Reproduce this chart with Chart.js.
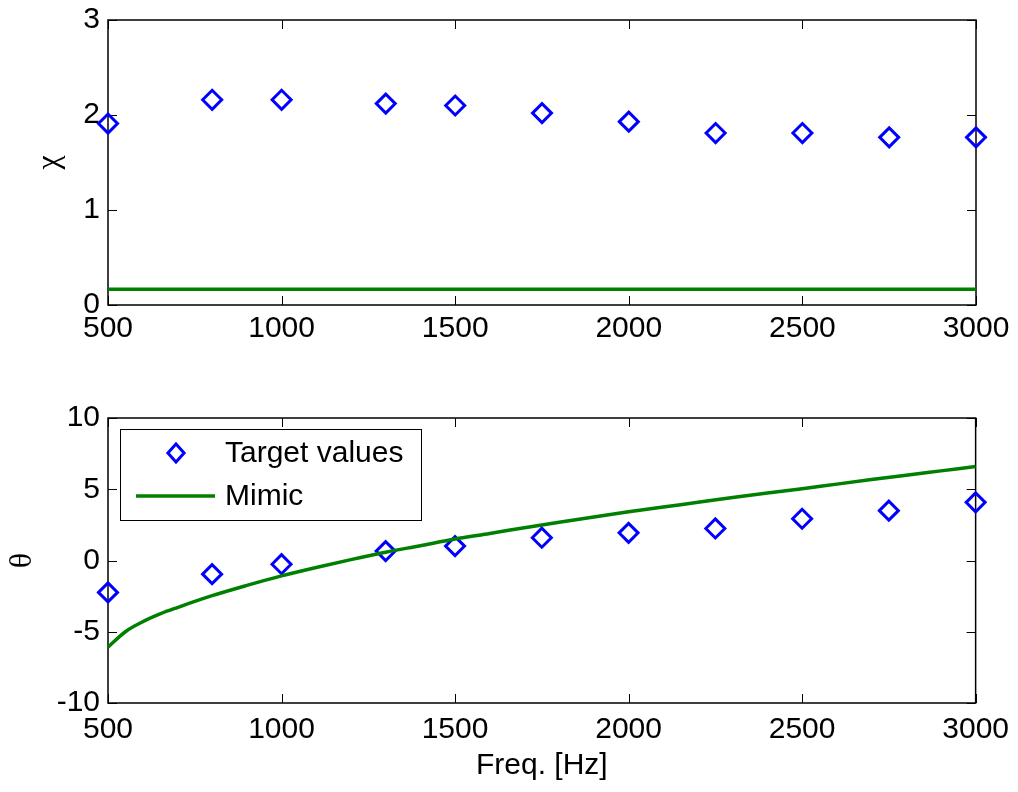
<!DOCTYPE html>
<html>
<head>
<meta charset="utf-8">
<script src="https://cdn.jsdelivr.net/npm/chart.js@4.4.1/dist/chart.umd.min.js"></script>
<style>
  html, body { margin: 0; padding: 0; background: #fff; }
  #wrap { position: relative; width: 1018px; height: 792px; }
  canvas { position: absolute; left: 0; }
  #top { top: 0; }
  #bot { top: 360px; }
</style>
</head>
<body>
<div id="wrap">
  <canvas id="top" width="1018" height="360"></canvas>
  <canvas id="bot" width="1018" height="432"></canvas>
</div>
<script>
// target points (diamonds)
const targetFreq = [500, 800, 1000, 1300, 1500, 1750, 2000, 2250, 2500, 2750, 3000];
const chiTarget = [1.91, 2.16, 2.16, 2.12, 2.10, 2.02, 1.93, 1.81, 1.81, 1.765, 1.765];
const thetaTarget = [-2.24, -0.96, -0.26, 0.66, 1.01, 1.6, 1.94, 2.25, 2.93, 3.5, 4.08];

// mimic curves (green)
const chiMimicFreq = [500, 3000];
const chiMimic = [0.165, 0.165];
const mimicFreq = [500, 550, 600, 650, 700, 800, 900, 1000, 1100, 1200, 1300, 1400, 1500, 1600,
  1700, 1800, 1900, 2000, 2100, 2200, 2300, 2400, 2500, 2600, 2700, 2800, 2900, 3000];
const thetaMimic = [-6.08, -5.0, -4.3, -3.75, -3.3, -2.47, -1.75, -1.08, -0.49, 0.06, 0.58, 1.04, 1.51, 1.9,
  2.3, 2.69, 3.06, 3.42, 3.76, 4.08, 4.42, 4.73, 5.03, 5.36, 5.68, 5.99, 6.29, 6.59];

const BLUE = '#0000ff';
const GREEN = '#008000';
const SANS = '"Liberation Sans", Arial, sans-serif';
const SERIF = '"Liberation Serif", "DejaVu Serif", serif';

Chart.defaults.font.family = SANS;
Chart.defaults.font.size = 30;
Chart.defaults.color = '#000';

const pts = (xs, ys) => xs.map((x, i) => ({ x, y: ys[i] }));

// matlab style box with inward ticks on all four sides
const boxPlugin = {
  id: 'box',
  beforeDatasetsDraw(chart) {
    const { ctx, chartArea: a, scales: { x, y } } = chart;
    ctx.save();
    ctx.strokeStyle = '#000';
    ctx.lineWidth = 1;
    ctx.beginPath();
    x.ticks.forEach((t) => {
      const px = Math.round(x.getPixelForValue(t.value)) + 0.5;
      ctx.moveTo(px, a.bottom); ctx.lineTo(px, a.bottom - 9);
      ctx.moveTo(px, a.top); ctx.lineTo(px, a.top + 9);
    });
    y.ticks.forEach((t) => {
      const py = Math.round(y.getPixelForValue(t.value)) + 0.5;
      ctx.moveTo(a.left, py); ctx.lineTo(a.left + 9, py);
      ctx.moveTo(a.right, py); ctx.lineTo(a.right - 9, py);
    });
    ctx.stroke();
    ctx.lineWidth = 1.5;
    ctx.strokeRect(a.left, a.top, a.right - a.left, a.bottom - a.top);
    ctx.restore();
  },
};

function diamond(ctx, cx, cy, r) {
  ctx.beginPath();
  ctx.moveTo(cx, cy - r);
  ctx.lineTo(cx + r * 0.9, cy);
  ctx.lineTo(cx, cy + r);
  ctx.lineTo(cx - r * 0.9, cy);
  ctx.closePath();
  ctx.stroke();
}

const legendPlugin = {
  id: 'boxLegend',
  afterDraw(chart) {
    const ctx = chart.ctx;
    const oy = 360;
    ctx.save();
    ctx.fillStyle = '#fff';
    ctx.strokeStyle = '#000';
    ctx.lineWidth = 1;
    ctx.fillRect(120, 429 - oy, 302, 92);
    ctx.strokeRect(120.5, 429.5 - oy, 301, 91);
    ctx.strokeStyle = BLUE;
    ctx.lineWidth = 3;
    diamond(ctx, 176, 453 - oy, 9);
    ctx.strokeStyle = GREEN;
    ctx.lineWidth = 3.5;
    ctx.beginPath();
    ctx.moveTo(136, 496 - oy);
    ctx.lineTo(215, 496 - oy);
    ctx.stroke();
    ctx.fillStyle = '#000';
    ctx.font = '30px ' + SANS;
    ctx.textBaseline = 'middle';
    ctx.fillText('Target values', 225, 454 - oy);
    ctx.fillText('Mimic', 225, 497 - oy);
    ctx.restore();
  },
};

function makeChart(id, opts) {
  return new Chart(document.getElementById(id), {
    type: 'scatter',
    data: {
      datasets: [
        {
          label: 'Mimic',
          data: opts.line,
          showLine: true,
          borderColor: GREEN,
          borderWidth: 3.5,
          pointRadius: 0,
          cubicInterpolationMode: 'monotone',
          clip: false,
        },
        {
          label: 'Target values',
          data: opts.target,
          showLine: false,
          pointStyle: 'rectRot',
          pointRadius: 9.5,
          pointBorderWidth: 3,
          pointBorderColor: BLUE,
          pointBackgroundColor: 'rgba(0,0,0,0)',
          clip: false,
        },
      ],
    },
    options: {
      responsive: false,
      animation: false,
      events: [],
      layout: { autoPadding: false, padding: { left: 0, right: 42, top: opts.padTop, bottom: 0 } },
      plugins: { legend: { display: false }, tooltip: { enabled: false } },
      scales: {
        x: {
          type: 'linear',
          min: 500,
          max: 3000,
          grid: { display: false, drawTicks: false },
          border: { display: false },
          ticks: { stepSize: 500, padding: opts.xPad, maxRotation: 0, callback: (v) => String(v) },
          title: opts.xTitle
            ? { display: true, text: 'Freq. [Hz]', font: { size: 30 }, padding: { top: 0, bottom: 8 } }
            : { display: false },
          afterFit: (s) => { s.height = opts.xHeight; },
        },
        y: {
          min: opts.yMin,
          max: opts.yMax,
          grid: { display: false, drawTicks: false },
          border: { display: false },
          ticks: {
            stepSize: opts.yStep,
            padding: 8,
            font: { size: 30, lineHeight: 0.7 },
            callback: (v) => String(v),
          },
          title: {
            display: true,
            text: opts.yTitle,
            font: { family: SERIF, size: 32 },
            padding: { top: opts.yTitlePad, bottom: 0 },
          },
          afterFit: (s) => { s.width = 108; },
        },
      },
    },
    plugins: opts.legend ? [boxPlugin, legendPlugin] : [boxPlugin],
  });
}

makeChart('top', {
  line: pts(chiMimicFreq, chiMimic),
  target: pts(targetFreq, chiTarget),
  padTop: 20,
  xHeight: 55,
  xPad: 6,
  xTitle: false,
  yMin: 0, yMax: 3, yStep: 1,
  yTitle: 'χ',
  yTitlePad: 30,
  legend: false,
});

makeChart('bot', {
  line: pts(mimicFreq, thetaMimic),
  target: pts(targetFreq, thetaTarget),
  padTop: 58,
  xHeight: 89,
  xPad: 9,
  xTitle: true,
  yMin: -10, yMax: 10, yStep: 5,
  yTitle: 'θ',
  yTitlePad: 3,
  legend: true,
});
</script>
</body>
</html>
